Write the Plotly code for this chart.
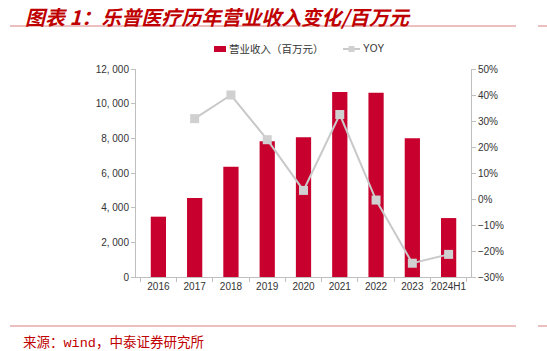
import plotly.graph_objects as go

categories = ["2016", "2017", "2018", "2019", "2020", "2021", "2022", "2023", "2024H1"]
revenue = [3480, 4560, 6366, 7830, 8060, 10675, 10634, 8004, 3400]
yoy = [None, 30.9, 40.0, 22.8, 3.3, 32.5, -0.4, -24.7, -21.3]
left_ticks = [0, 2000, 4000, 6000, 8000, 10000, 12000]
left_labels = ["0", "2, 000", "4, 000", "6, 000", "8, 000", "10, 000", "12, 000"]
right_ticks = [-30, -20, -10, 0, 10, 20, 30, 40, 50]
right_labels = ["−30%", "−20%", "−10%", "0%", "10%", "20%", "30%", "40%", "50%"]

W, H = 547, 351
L, R, T, B = 136, 471, 69, 277

bar_color = "#C8002D"
line_color = "#C9C9C9"
red_text = "#C00000"
axis_color = "#BFBFBF"
tick_font = dict(family="Liberation Sans, Arial", size=10, color="#333333")

fig = go.Figure()
fig.add_trace(go.Bar(
    x=categories, y=revenue, name="营业收入（百万元）",
    marker=dict(color=bar_color, line=dict(width=0)),
    width=0.42, yaxis="y",
))
fig.add_trace(go.Scatter(
    x=categories, y=yoy, name="YOY", yaxis="y2",
    mode="lines+markers",
    line=dict(color=line_color, width=2),
    marker=dict(symbol="square", size=9, color="#D0D0D0"),
))

fig.update_layout(
    width=W, height=H,
    margin=dict(l=L, r=W - R, t=T, b=H - B, pad=0),
    paper_bgcolor="white", plot_bgcolor="white",
    showlegend=False,
    xaxis=dict(
        type="category", showline=True, linecolor=axis_color, linewidth=1,
        ticks="outside", ticklen=4, tickcolor=axis_color, tickson="boundaries",
        showgrid=False, tickfont=tick_font, zeroline=False, tickangle=0,
    ),
    yaxis=dict(
        range=[0, 12000], tickvals=left_ticks, ticktext=left_labels,
        showline=True, linecolor=axis_color, linewidth=1,
        ticks="outside", ticklen=4, tickcolor=axis_color,
        showgrid=False, zeroline=False, tickfont=tick_font,
    ),
    yaxis2=dict(
        range=[-30, 50], tickvals=right_ticks, ticktext=right_labels,
        overlaying="y", side="right",
        showline=True, linecolor=axis_color, linewidth=1,
        ticks="outside", ticklen=4, tickcolor=axis_color,
        showgrid=False, zeroline=False, tickfont=tick_font,
    ),
)

def px_x(x):
    return (x - L) / (R - L)

def px_y(y):
    return (B - y) / (B - T)

# Title
fig.add_annotation(
    text="<b><i>图表 1：乐普医疗历年营业收入变化/百万元</i></b>",
    xref="paper", yref="paper", x=px_x(23), y=px_y(0.5),
    xanchor="left", yanchor="top", showarrow=False,
    font=dict(family="Noto Sans CJK SC", size=20, color=red_text),
)
# Source
fig.add_annotation(
    text='来源：<span style="font-family:Liberation Mono, DejaVu Sans Mono">wind</span>，中泰证券研究所',
    xref="paper", yref="paper", x=px_x(21), y=px_y(341),
    xanchor="left", yanchor="middle", showarrow=False,
    font=dict(family="Noto Sans CJK SC", size=13.5, color=red_text),
)
# Decorative lines
for yy in (26, 326):
    fig.add_shape(type="line", xref="paper", yref="paper",
                  x0=px_x(10), x1=px_x(516), y0=px_y(yy), y1=px_y(yy),
                  line=dict(color="#D98080", width=1))
    fig.add_shape(type="line", xref="paper", yref="paper",
                  x0=px_x(538), x1=px_x(547), y0=px_y(yy), y1=px_y(yy),
                  line=dict(color="#D98080", width=1))

# Legend
ly = 49
fig.add_shape(type="rect", xref="paper", yref="paper",
              x0=px_x(214), x1=px_x(226), y0=px_y(ly + 3), y1=px_y(ly - 3),
              fillcolor=bar_color, line=dict(width=0))
fig.add_annotation(
    text="营业收入（百万元）", xref="paper", yref="paper",
    x=px_x(227), y=px_y(ly), xanchor="left", yanchor="middle", showarrow=False,
    font=dict(family="Noto Sans CJK SC", size=10.5, color="#333333"),
)
fig.add_shape(type="line", xref="paper", yref="paper",
              x0=px_x(343), x1=px_x(360), y0=px_y(ly), y1=px_y(ly),
              line=dict(color=line_color, width=2))
fig.add_shape(type="rect", xref="paper", yref="paper",
              x0=px_x(348.5), x1=px_x(354.5), y0=px_y(ly + 3), y1=px_y(ly - 3),
              fillcolor="#D0D0D0", line=dict(width=0))
fig.add_annotation(
    text="YOY", xref="paper", yref="paper",
    x=px_x(361), y=px_y(ly), xanchor="left", yanchor="middle", showarrow=False,
    font=dict(family="Liberation Sans, Arial", size=10, color="#333333"),
)

fig.write_html("out.html")
